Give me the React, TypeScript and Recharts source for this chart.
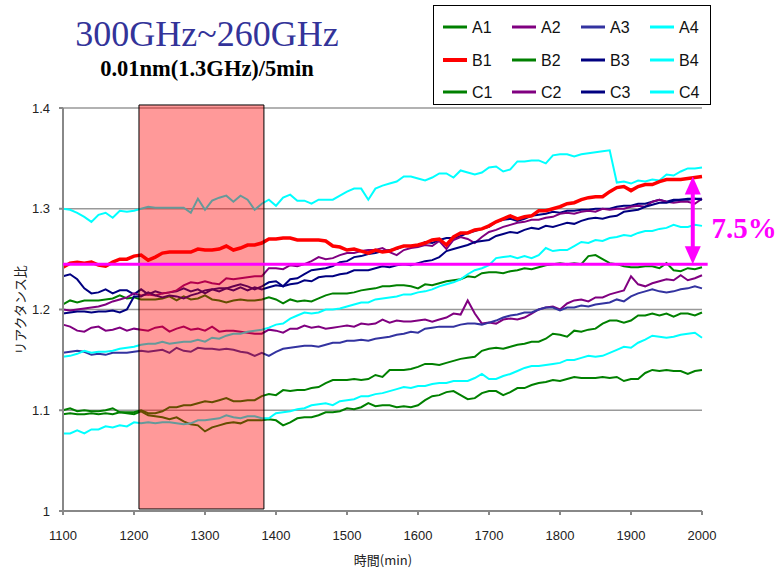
import {
  LineChart, Line, XAxis, YAxis, CartesianGrid, ReferenceArea, ReferenceLine,
} from "recharts";

// time axis, every 10 min
const times = Array.from({ length: 91 }, (_, i) => 1100 + i * 10);
const xTicks = [1100, 1200, 1300, 1400, 1500, 1600, 1700, 1800, 1900, 2000];
const yTicks = [1, 1.1, 1.2, 1.3, 1.4];

const A1 = [
  1.100, 1.102, 1.099, 1.100, 1.099, 1.099, 1.100, 1.102, 1.098, 1.098, 1.098, 1.100, 1.097, 1.097, 1.099, 1.103,
  1.103, 1.105, 1.105, 1.107, 1.109, 1.108, 1.110, 1.112, 1.109, 1.109, 1.110, 1.110, 1.114, 1.116, 1.115,
  1.120, 1.119, 1.120, 1.120, 1.122, 1.123, 1.127, 1.130, 1.130, 1.130, 1.131, 1.130, 1.131, 1.135, 1.133,
  1.140, 1.140, 1.140, 1.141, 1.143, 1.146, 1.146, 1.145, 1.147, 1.149, 1.151, 1.152, 1.153, 1.159, 1.161,
  1.162, 1.161, 1.163, 1.165, 1.166, 1.168, 1.168, 1.171, 1.176, 1.175, 1.173, 1.179, 1.178, 1.180, 1.181,
  1.186, 1.189, 1.189, 1.187, 1.189, 1.194, 1.194, 1.196, 1.194, 1.196, 1.193, 1.196, 1.196, 1.194, 1.197,
];
const A2 = [
  1.185, 1.183, 1.179, 1.178, 1.182, 1.183, 1.179, 1.180, 1.182, 1.179, 1.181, 1.180, 1.179, 1.182, 1.183, 1.178,
  1.181, 1.183, 1.180, 1.181, 1.179, 1.183, 1.178, 1.179, 1.179, 1.178, 1.177, 1.176, 1.176, 1.180, 1.179,
  1.177, 1.181, 1.181, 1.184, 1.182, 1.183, 1.181, 1.182, 1.183, 1.184, 1.183, 1.186, 1.185, 1.186, 1.190,
  1.187, 1.189, 1.188, 1.188, 1.189, 1.190, 1.188, 1.190, 1.192, 1.196, 1.195, 1.209, 1.196, 1.186, 1.187,
  1.186, 1.190, 1.191, 1.190, 1.192, 1.196, 1.200, 1.202, 1.203, 1.200, 1.206, 1.209, 1.210, 1.208, 1.212,
  1.212, 1.215, 1.217, 1.219, 1.233, 1.225, 1.223, 1.226, 1.228, 1.230, 1.229, 1.234, 1.229, 1.231, 1.234,
];
const A3 = [
  1.157, 1.158, 1.159, 1.158, 1.155, 1.156, 1.155, 1.157, 1.157, 1.157, 1.158, 1.159, 1.158, 1.159, 1.160, 1.157,
  1.162, 1.159, 1.158, 1.162, 1.161, 1.161, 1.160, 1.161, 1.160, 1.158, 1.157, 1.154, 1.157, 1.154, 1.158,
  1.161, 1.162, 1.163, 1.164, 1.164, 1.163, 1.165, 1.167, 1.167, 1.169, 1.169, 1.170, 1.169, 1.171, 1.172,
  1.173, 1.175, 1.176, 1.178, 1.177, 1.181, 1.182, 1.183, 1.183, 1.183, 1.185, 1.186, 1.186, 1.185, 1.187,
  1.189, 1.192, 1.194, 1.195, 1.197, 1.197, 1.200, 1.202, 1.202, 1.199, 1.202, 1.202, 1.204, 1.203, 1.205,
  1.206, 1.207, 1.210, 1.208, 1.213, 1.216, 1.218, 1.220, 1.218, 1.217, 1.218, 1.220, 1.221, 1.223, 1.221,
];
const A4 = [
  1.300, 1.299, 1.296, 1.292, 1.287, 1.294, 1.296, 1.291, 1.298, 1.297, 1.298, 1.300, 1.302, 1.301, 1.301, 1.301,
  1.301, 1.301, 1.296, 1.310, 1.299, 1.308, 1.311, 1.313, 1.307, 1.313, 1.309, 1.299, 1.305, 1.309, 1.303,
  1.311, 1.314, 1.308, 1.308, 1.305, 1.309, 1.309, 1.309, 1.313, 1.317, 1.320, 1.320, 1.309, 1.320, 1.323,
  1.325, 1.327, 1.332, 1.332, 1.330, 1.328, 1.331, 1.335, 1.335, 1.331, 1.338, 1.336, 1.334, 1.336, 1.341,
  1.342, 1.337, 1.339, 1.347, 1.347, 1.348, 1.348, 1.345, 1.353, 1.354, 1.354, 1.352, 1.354, 1.355, 1.356,
  1.357, 1.358, 1.326, 1.327, 1.325, 1.328, 1.327, 1.329, 1.328, 1.334, 1.333, 1.337, 1.340, 1.340, 1.341,
];
const B1 = [
  1.242, 1.246, 1.247, 1.246, 1.247, 1.244, 1.243, 1.247, 1.250, 1.250, 1.253, 1.254, 1.249, 1.252, 1.256, 1.257,
  1.257, 1.257, 1.257, 1.260, 1.259, 1.259, 1.260, 1.263, 1.259, 1.261, 1.264, 1.264, 1.266, 1.270, 1.270,
  1.271, 1.271, 1.269, 1.269, 1.269, 1.269, 1.268, 1.263, 1.262, 1.259, 1.260, 1.258, 1.256, 1.259, 1.257,
  1.258, 1.261, 1.263, 1.263, 1.264, 1.266, 1.269, 1.270, 1.264, 1.272, 1.276, 1.276, 1.279, 1.280, 1.283,
  1.287, 1.290, 1.293, 1.290, 1.292, 1.293, 1.298, 1.298, 1.300, 1.302, 1.305, 1.306, 1.309, 1.311, 1.312,
  1.312, 1.317, 1.321, 1.322, 1.318, 1.322, 1.324, 1.324, 1.327, 1.329, 1.329, 1.329, 1.330, 1.331, 1.332,
];
const B2 = [
  1.205, 1.209, 1.207, 1.209, 1.209, 1.209, 1.210, 1.211, 1.214, 1.211, 1.212, 1.210, 1.210, 1.210, 1.211, 1.213,
  1.209, 1.213, 1.210, 1.211, 1.214, 1.210, 1.209, 1.207, 1.209, 1.210, 1.209, 1.209, 1.210, 1.212, 1.210,
  1.206, 1.210, 1.208, 1.209, 1.208, 1.211, 1.214, 1.216, 1.216, 1.216, 1.217, 1.219, 1.220, 1.221, 1.223,
  1.223, 1.224, 1.224, 1.223, 1.221, 1.225, 1.224, 1.226, 1.228, 1.229, 1.230, 1.233, 1.232, 1.236, 1.237,
  1.237, 1.236, 1.238, 1.239, 1.241, 1.240, 1.242, 1.244, 1.245, 1.246, 1.245, 1.246, 1.245, 1.253, 1.254,
  1.250, 1.246, 1.245, 1.243, 1.242, 1.242, 1.243, 1.243, 1.241, 1.246, 1.239, 1.238, 1.241, 1.240, 1.242,
];
const B3 = [
  1.233, 1.235, 1.230, 1.221, 1.216, 1.217, 1.220, 1.216, 1.219, 1.219, 1.215, 1.220, 1.215, 1.218, 1.216, 1.217,
  1.218, 1.221, 1.218, 1.220, 1.216, 1.220, 1.221, 1.221, 1.223, 1.225, 1.223, 1.220, 1.223, 1.227, 1.228,
  1.223, 1.230, 1.231, 1.235, 1.239, 1.240, 1.241, 1.243, 1.247, 1.248, 1.252, 1.253, 1.255, 1.256, 1.258,
  1.259, 1.260, 1.263, 1.263, 1.263, 1.267, 1.266, 1.269, 1.271, 1.271, 1.273, 1.276, 1.278, 1.280, 1.282,
  1.287, 1.289, 1.290, 1.288, 1.290, 1.293, 1.294, 1.295, 1.297, 1.296, 1.298, 1.298, 1.299, 1.299, 1.300,
  1.300, 1.300, 1.302, 1.303, 1.303, 1.305, 1.305, 1.307, 1.309, 1.307, 1.309, 1.309, 1.309, 1.310, 1.310,
];
const B4 = [
  1.153, 1.154, 1.156, 1.159, 1.157, 1.158, 1.158, 1.159, 1.161, 1.162, 1.163, 1.165, 1.166, 1.166, 1.168, 1.166,
  1.167, 1.168, 1.168, 1.170, 1.168, 1.172, 1.171, 1.174, 1.176, 1.176, 1.178, 1.179, 1.180, 1.182, 1.185,
  1.186, 1.191, 1.194, 1.197, 1.196, 1.197, 1.200, 1.200, 1.201, 1.203, 1.205, 1.207, 1.207, 1.210, 1.211,
  1.212, 1.213, 1.215, 1.215, 1.217, 1.218, 1.220, 1.223, 1.225, 1.227, 1.230, 1.235, 1.239, 1.241, 1.244,
  1.251, 1.252, 1.253, 1.251, 1.253, 1.251, 1.254, 1.261, 1.258, 1.259, 1.259, 1.263, 1.267, 1.266, 1.269,
  1.268, 1.271, 1.272, 1.274, 1.273, 1.276, 1.278, 1.278, 1.280, 1.281, 1.284, 1.282, 1.282, 1.284, 1.283,
];
const C1 = [
  1.096, 1.097, 1.096, 1.096, 1.097, 1.096, 1.097, 1.096, 1.098, 1.097, 1.096, 1.099, 1.095, 1.094, 1.093, 1.091,
  1.093, 1.089, 1.086, 1.085, 1.079, 1.083, 1.085, 1.087, 1.088, 1.087, 1.090, 1.090, 1.090, 1.091, 1.090,
  1.085, 1.088, 1.092, 1.093, 1.093, 1.095, 1.098, 1.098, 1.099, 1.102, 1.101, 1.103, 1.107, 1.104, 1.105,
  1.105, 1.103, 1.104, 1.103, 1.105, 1.110, 1.114, 1.115, 1.118, 1.119, 1.115, 1.111, 1.112, 1.117, 1.119,
  1.119, 1.115, 1.118, 1.122, 1.122, 1.125, 1.127, 1.128, 1.130, 1.129, 1.131, 1.133, 1.132, 1.132, 1.132,
  1.133, 1.132, 1.133, 1.129, 1.131, 1.131, 1.137, 1.140, 1.139, 1.140, 1.139, 1.139, 1.136, 1.139, 1.140,
];
const C2 = [
  1.200, 1.199, 1.200, 1.201, 1.202, 1.203, 1.205, 1.208, 1.210, 1.212, 1.216, 1.214, 1.215, 1.214, 1.216, 1.217,
  1.219, 1.224, 1.227, 1.226, 1.228, 1.226, 1.225, 1.231, 1.230, 1.231, 1.232, 1.233, 1.233, 1.241, 1.241,
  1.240, 1.244, 1.243, 1.245, 1.248, 1.252, 1.250, 1.251, 1.254, 1.256, 1.256, 1.258, 1.259, 1.259, 1.261,
  1.257, 1.254, 1.259, 1.261, 1.262, 1.264, 1.263, 1.268, 1.260, 1.269, 1.272, 1.270, 1.266, 1.272, 1.277,
  1.279, 1.282, 1.284, 1.286, 1.287, 1.289, 1.289, 1.291, 1.292, 1.295, 1.296, 1.295, 1.297, 1.298, 1.297,
  1.300, 1.299, 1.300, 1.300, 1.302, 1.303, 1.302, 1.307, 1.309, 1.307, 1.306, 1.307, 1.307, 1.305, 1.310,
];
const C3 = [
  1.196, 1.197, 1.198, 1.198, 1.197, 1.198, 1.198, 1.199, 1.197, 1.200, 1.213, 1.213, 1.217, 1.214, 1.212, 1.214,
  1.213, 1.211, 1.214, 1.216, 1.219, 1.220, 1.218, 1.221, 1.219, 1.222, 1.219, 1.222, 1.220, 1.222, 1.224,
  1.223, 1.225, 1.226, 1.229, 1.228, 1.232, 1.233, 1.233, 1.235, 1.236, 1.239, 1.239, 1.239, 1.241, 1.243,
  1.242, 1.244, 1.245, 1.244, 1.246, 1.248, 1.249, 1.252, 1.258, 1.260, 1.262, 1.264, 1.267, 1.268, 1.269,
  1.273, 1.275, 1.277, 1.276, 1.279, 1.281, 1.280, 1.283, 1.282, 1.284, 1.286, 1.285, 1.288, 1.290, 1.291,
  1.290, 1.292, 1.293, 1.297, 1.298, 1.299, 1.302, 1.304, 1.306, 1.306, 1.308, 1.309, 1.310, 1.310, 1.309,
];
const C4 = [
  1.077, 1.077, 1.080, 1.077, 1.081, 1.081, 1.084, 1.083, 1.085, 1.084, 1.088, 1.087, 1.088, 1.087, 1.088, 1.088,
  1.087, 1.086, 1.087, 1.090, 1.090, 1.091, 1.092, 1.095, 1.093, 1.092, 1.094, 1.094, 1.092, 1.092, 1.097,
  1.098, 1.099, 1.101, 1.102, 1.105, 1.106, 1.107, 1.105, 1.109, 1.110, 1.111, 1.114, 1.114, 1.116, 1.117,
  1.119, 1.121, 1.123, 1.122, 1.124, 1.124, 1.126, 1.127, 1.127, 1.129, 1.129, 1.129, 1.132, 1.136, 1.131,
  1.131, 1.134, 1.136, 1.139, 1.142, 1.144, 1.144, 1.145, 1.146, 1.147, 1.150, 1.150, 1.152, 1.154, 1.153,
  1.154, 1.157, 1.160, 1.163, 1.162, 1.167, 1.170, 1.174, 1.173, 1.172, 1.173, 1.175, 1.176, 1.177, 1.172,
];

const GREEN = "#008000";
const PURPLE = "#800080";
const NAVY = "#000080";
const CYAN = "#00FFFF";

const series = [
  { key: "A1", color: GREEN, width: 2, values: A1 },
  { key: "A2", color: PURPLE, width: 2, values: A2 },
  { key: "A3", color: "#3333A0", width: 2, values: A3 },
  { key: "A4", color: CYAN, width: 2, values: A4 },
  { key: "B1", color: "#FF0000", width: 3.5, values: B1 },
  { key: "B2", color: GREEN, width: 2, values: B2 },
  { key: "B3", color: NAVY, width: 2, values: B3 },
  { key: "B4", color: CYAN, width: 2, values: B4 },
  { key: "C1", color: GREEN, width: 2, values: C1 },
  { key: "C2", color: PURPLE, width: 2, values: C2 },
  { key: "C3", color: NAVY, width: 2, values: C3 },
  { key: "C4", color: CYAN, width: 2, values: C4 },
];
// draw order: red on top
const drawOrder = ["A1", "A2", "A3", "A4", "B2", "B3", "B4", "C1", "C2", "C3", "C4", "B1"];

const data = times.map((t, i) => {
  const row: Record<string, number> = { t };
  series.forEach((s) => { row[s.key] = s.values[i]; });
  return row;
});

const MAGENTA = "#FF00FF";

const DoubleArrow = (p: any) => {
  const { x1, y1, y2 } = p;
  const top = Math.min(y1, y2);
  const bot = Math.max(y1, y2);
  const hw = 8;
  const hh = 18;
  return (
    <g>
      <line x1={x1} x2={x1} y1={top + hh - 2} y2={bot - hh + 2} stroke={MAGENTA} strokeWidth={4} />
      <polygon points={`${x1},${top} ${x1 - hw},${top + hh} ${x1 + hw},${top + hh}`} fill={MAGENTA} />
      <polygon points={`${x1},${bot} ${x1 - hw},${bot - hh} ${x1 + hw},${bot - hh}`} fill={MAGENTA} />
    </g>
  );
};

const tickStyle = { fontSize: 13, fill: "#222", fontFamily: "'Liberation Sans', Arial, sans-serif" };

export default function App() {
  return (
    <div style={{ position: "absolute", left: 0, top: 0, width: 779, height: 571, background: "#fff" }}>
      <LineChart width={779} height={571} data={data} margin={{ top: 108, right: 77, bottom: 30, left: 0 }}>
        <CartesianGrid vertical={false} stroke="#999" strokeWidth={1.5} />
        <XAxis
          dataKey="t" type="number" domain={[1100, 2000]} ticks={xTicks}
          height={30} tickSize={4} tickMargin={16} tick={tickStyle}
          stroke="#888" strokeWidth={2}
        />
        <YAxis
          domain={[1, 1.4]} ticks={yTicks} width={63} tickSize={4} tickMargin={9}
          tick={tickStyle} stroke="#888" strokeWidth={2}
          tickFormatter={(v: number) => (v === 1 ? "1" : v.toFixed(1))}
        />
        {drawOrder.map((k) => {
          const s = series.find((x) => x.key === k)!;
          return (
            <Line key={k} dataKey={k} name={k} type="linear" stroke={s.color} strokeWidth={s.width}
              dot={false} isAnimationActive={false} />
          );
        })}
        <ReferenceArea x1={1207} x2={1383} y1={1.002} y2={1.403} ifOverflow="visible"
          fill="#FF0000" fillOpacity={0.4} stroke="#000" strokeWidth={1} zIndex={1500} />
        <ReferenceLine segment={[{ x: 1100, y: 1.245 }, { x: 2008, y: 1.245 }]} ifOverflow="visible"
          stroke={MAGENTA} strokeWidth={3} zIndex={1600} />
        <ReferenceLine segment={[{ x: 1987, y: 1.245 }, { x: 1987, y: 1.332 }]} ifOverflow="visible"
          shape={DoubleArrow} zIndex={1700} />
      </LineChart>

      <svg width={779} height={571} style={{ position: "absolute", left: 0, top: 0, pointerEvents: "none" }}>
        <text x={207} y={46} textAnchor="middle" fontFamily="'Liberation Serif', serif" fontSize={36} fill="#333399">
          300GHz~260GHz
        </text>
        <text x={207} y={76} textAnchor="middle" fontFamily="'Liberation Serif', serif" fontSize={22.5} fontWeight="bold" fill="#000">
          0.01nm(1.3GHz)/5min
        </text>
        <text x={744} y={238} textAnchor="middle" fontFamily="'Liberation Serif', serif" fontSize={29} fontWeight="bold" fill={MAGENTA}>
          7.5%
        </text>
        <text x={383} y={565} textAnchor="middle" fontFamily="'Noto Sans CJK JP', sans-serif" fontSize={13} fill="#222">
          時間(min)
        </text>
        <text x={0} y={0} transform="translate(25 310) rotate(-90)" textAnchor="middle"
          fontFamily="'Noto Sans CJK JP', sans-serif" fontSize={13} fill="#222">
          リアクタンス比
        </text>
        {/* legend */}
        <rect x={433.5} y={5.5} width={277} height={99} fill="#fff" stroke="#000" strokeWidth={1} />
        {series.map((s, i) => {
          const col = i % 4;
          const row = Math.floor(i / 4);
          const lx = 443 + col * 69;
          const ly = [27, 60, 92][row];
          return (
            <g key={s.key}>
              <line x1={lx} x2={lx + 24} y1={ly} y2={ly} stroke={s.color} strokeWidth={s.key === "B1" ? 4 : 3} />
              <text x={lx + 29} y={ly + 6} fontFamily="'Liberation Sans', Arial, sans-serif" fontSize={16} fill="#111">
                {s.key}
              </text>
            </g>
          );
        })}
      </svg>
    </div>
  );
}
